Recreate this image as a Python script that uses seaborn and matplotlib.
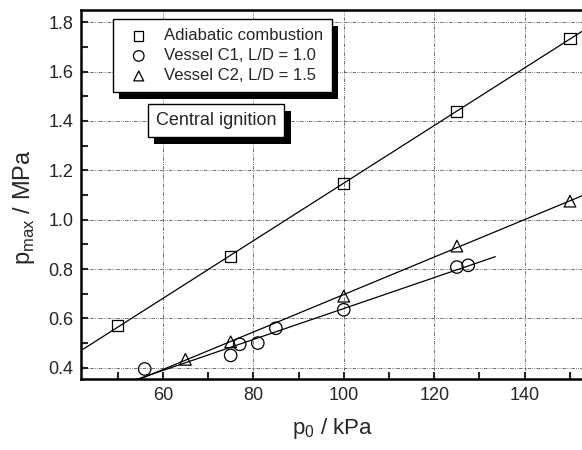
import numpy as np
import pandas as pd
import matplotlib
matplotlib.use("Agg")
import matplotlib.pyplot as plt
import matplotlib.patheffects as pe
from matplotlib.ticker import MultipleLocator, FormatStrFormatter
import seaborn as sns

# Data
p0_adiabatic = [50, 75, 100, 125, 150]
pmax_adiabatic = [0.57, 0.85, 1.145, 1.44, 1.735]

p0_c1 = [56, 75, 77, 81, 85, 100, 125, 127.5]
pmax_c1 = [0.395, 0.45, 0.495, 0.50, 0.56, 0.635, 0.808, 0.815]

p0_c2 = [65, 75, 100, 125, 150]
pmax_c2 = [0.434, 0.505, 0.69, 0.893, 1.075]

# x-range of each drawn fit line
fit_range_adiabatic = [40, 155]
fit_range_c1 = [54, 133.5]
fit_range_c2 = [54, 155]

labels = ["Adiabatic combustion", "Vessel C1, L/D = 1.0", "Vessel C2, L/D = 1.5"]

sns.set_style("ticks")
plt.rcParams["font.family"] = ["Liberation Sans", "DejaVu Sans"]
plt.rcParams["mathtext.fontset"] = "custom"
plt.rcParams["mathtext.rm"] = "Liberation Sans"

fig = plt.figure(figsize=(5.82, 4.5), dpi=100)
ax = fig.add_axes([0.139, 0.157, 0.866, 0.821])

series = [
    (p0_adiabatic, pmax_adiabatic, fit_range_adiabatic, "s", 64),
    (p0_c1, pmax_c1, fit_range_c1, "o", 80),
    (p0_c2, pmax_c2, fit_range_c2, "^", 70),
]

for (x, y, rng, mk, sz), lab in zip(series, labels):
    df = pd.DataFrame({"p0": x, "pmax": y})
    k, b = np.polyfit(df["p0"], df["pmax"], 1)
    xf = np.array(rng, dtype=float)
    fit = pd.DataFrame({"p0": xf, "pmax": k * xf + b})
    sns.lineplot(data=fit, x="p0", y="pmax", ax=ax, color="black", lw=0.9)
    sns.scatterplot(data=df, x="p0", y="pmax", ax=ax, marker=mk, s=sz,
                    facecolor="none", edgecolor="black", linewidth=0.9,
                    label=lab, zorder=3)

ax.set_xlim(41.9, 153.3)
ax.set_ylim(0.353, 1.85)
ax.xaxis.set_major_locator(MultipleLocator(20))
ax.xaxis.set_minor_locator(MultipleLocator(10))
ax.yaxis.set_major_locator(MultipleLocator(0.2))
ax.yaxis.set_minor_locator(MultipleLocator(0.1))
ax.yaxis.set_major_formatter(FormatStrFormatter("%.1f"))

ax.grid(True, which="major", color="#555555", lw=0.6,
        linestyle=(0, (4, 1.5, 1, 1.5, 1, 1.5)))
ax.tick_params(which="both", direction="in", width=1.5, labelsize=13,
               top=False, right=False)
ax.tick_params(which="major", length=5, pad=5.5)
ax.tick_params(which="minor", length=5)
for s in ["left", "bottom", "top"]:
    ax.spines[s].set_linewidth(1.8)
    ax.spines[s].set_color("black")
ax.spines["right"].set_visible(False)

ax.set_xlabel("p$_{0}$ / kPa", fontsize=16, labelpad=9)
ax.set_ylabel("p$_{\\rm max}$ / MPa", fontsize=17)
ax.yaxis.set_label_coords(-0.087, 0.466)

shadow = [pe.SimplePatchShadow(offset=(4.5, -5), shadow_rgbFace="black", alpha=1),
          pe.Normal()]

leg = ax.legend(loc="upper left", bbox_to_anchor=(0.0635, 0.975),
                borderaxespad=0, fancybox=False, framealpha=1,
                edgecolor="black", fontsize=12, handletextpad=0.5,
                labelspacing=0.3, borderpad=0.55, handlelength=2.0,
                markerscale=0.85)
leg.get_frame().set_linewidth(1.0)
leg.get_frame().set_path_effects(shadow)

txt = ax.text(0.268, 0.70, "Central ignition", transform=ax.transAxes,
              ha="center", va="center", fontsize=13,
              bbox=dict(boxstyle="square,pad=0.45", fc="white", ec="black", lw=1.0))
txt.get_bbox_patch().set_path_effects(shadow)

fig.savefig("out.png", dpi=100)
